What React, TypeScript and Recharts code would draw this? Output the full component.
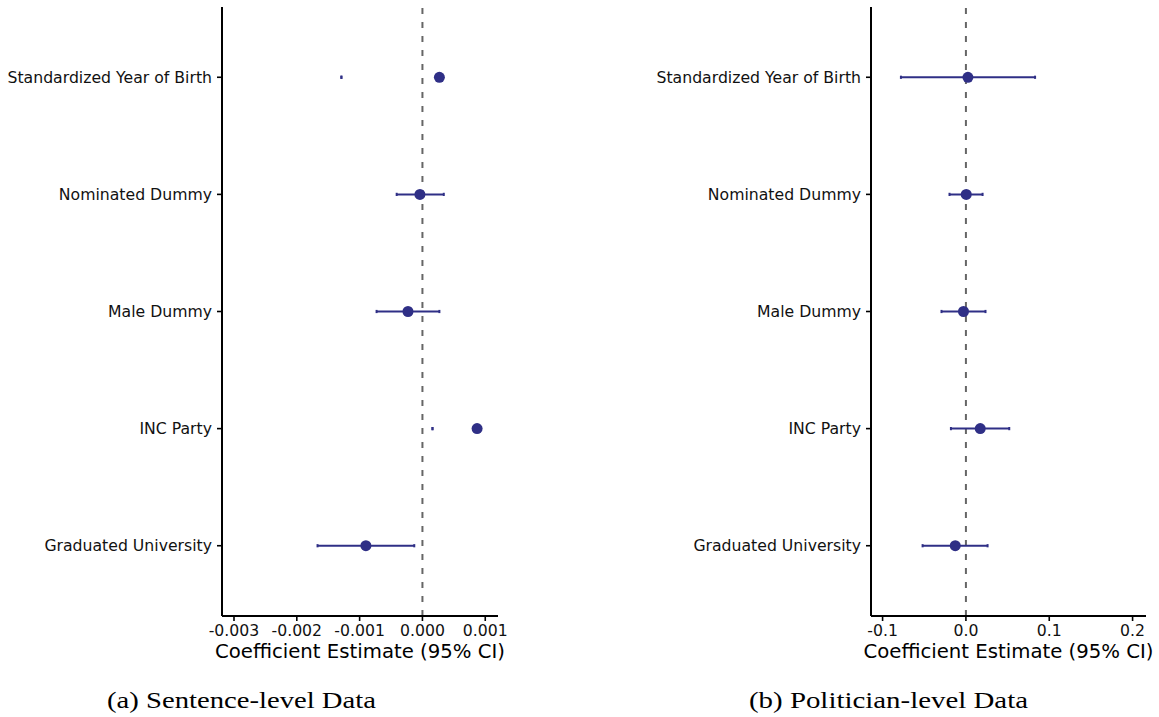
import React from "react";
import { ScatterChart, Scatter, XAxis, YAxis, ErrorBar, ReferenceLine } from "recharts";

// Categories from bottom (index 1) to top (index 5)
const categories = [
  "Graduated University",
  "INC Party",
  "Male Dummy",
  "Nominated Dummy",
  "Standardized Year of Birth",
];

// (a) Sentence-level data
const sentenceEstimate = [-0.0009, 0.00087, -0.00023, -0.00004, 0.00027];
const sentenceLower = [-0.00167, 0.00016, -0.00073, -0.00041, -0.00129];
const sentenceUpper = [-0.00013, 0.00016, 0.00027, 0.00034, -0.00129];
const sentenceTicks = [-0.003, -0.002, -0.001, 0, 0.001];

// (b) Politician-level data
const politicianEstimate = [-0.0128, 0.0172, -0.0029, 0.0004, 0.0024];
const politicianLower = [-0.052, -0.018, -0.0293, -0.0197, -0.078];
const politicianUpper = [0.026, 0.052, 0.0235, 0.02, 0.083];
const politicianTicks = [-0.1, 0, 0.1, 0.2];

const categoryTicks = [1, 2, 3, 4, 5];

const POINT = "#2f2f86";
const FONT = "'DejaVu Sans', sans-serif";

function buildRows(est: number[], lo: number[], hi: number[]) {
  return categories.map((name, i) => ({
    name,
    y: i + 1,
    est: est[i],
    err: [est[i] - lo[i], hi[i] - est[i]],
  }));
}

const Dot = (p: any) => <circle cx={p.cx} cy={p.cy} r={5.5} fill={POINT} />;

function Panel(props: {
  rows: any[];
  domain: [number, number];
  ticks: number[];
  digits: number;
  width: number;
  marginLeft: number;
  marginRight: number;
}) {
  const { rows, domain, ticks, digits, width, marginLeft, marginRight } = props;
  return (
    <ScatterChart
      width={width}
      height={680}
      margin={{ top: 7, right: marginRight, bottom: 0, left: marginLeft }}
    >
      <XAxis
        type="number"
        dataKey="est"
        domain={domain}
        allowDataOverflow
        ticks={ticks}
        tickFormatter={(v: number) => v.toFixed(digits)}
        tick={{ fontSize: 15.7, fill: "#111", fontFamily: FONT }}
        tickSize={5}
        tickMargin={4}
        axisLine={{ stroke: "#000", strokeWidth: 2 }}
        tickLine={{ stroke: "#000", strokeWidth: 1.6 }}
        height={64}
        label={{
          value: "Coefficient Estimate (95% CI)",
          position: "insideBottom",
          offset: 22,
          style: { fontSize: 19.7, fill: "#000", fontFamily: FONT },
        }}
      />
      <YAxis
        type="number"
        dataKey="y"
        domain={[0.4, 5.6]}
        allowDataOverflow
        ticks={categoryTicks}
        tickFormatter={(v: number) => categories[v - 1]}
        tick={{ fontSize: 15.7, fill: "#111", fontFamily: FONT }}
        tickSize={5}
        tickMargin={5}
        width={210}
        axisLine={{ stroke: "#000", strokeWidth: 2 }}
        tickLine={{ stroke: "#000", strokeWidth: 1.6 }}
      />
      <ReferenceLine x={0} stroke="#666" strokeWidth={2} strokeDasharray="6 8" />
      <Scatter data={rows} shape={Dot} isAnimationActive={false}>
        <ErrorBar dataKey="err" direction="x" width={1.6} stroke={POINT} strokeWidth={2} />
      </Scatter>
    </ScatterChart>
  );
}

export default function App() {
  const sentenceRows = buildRows(sentenceEstimate, sentenceLower, sentenceUpper);
  const politicianRows = buildRows(politicianEstimate, politicianLower, politicianUpper);
  return (
    <div style={{ position: "absolute", left: 0, top: 0, width: 1159, height: 717, background: "#fff" }}>
      <div style={{ position: "absolute", left: 0, top: 0 }}>
        <Panel
          rows={sentenceRows}
          domain={[-0.003191, 0.001203]}
          ticks={sentenceTicks}
          digits={3}
          width={520}
          marginLeft={12}
          marginRight={22}
        />
      </div>
      <div style={{ position: "absolute", left: 640, top: 0 }}>
        <Panel
          rows={politicianRows}
          domain={[-0.1139, 0.2161]}
          ticks={politicianTicks}
          digits={1}
          width={519}
          marginLeft={21}
          marginRight={13}
        />
      </div>
      <svg width={1159} height={717} style={{ position: "absolute", left: 0, top: 0, pointerEvents: "none" }}>
        <text
          x={241.5}
          y={708}
          textAnchor="middle"
          fontFamily="'Liberation Serif', serif"
          fontSize={23}
          textLength={269}
          lengthAdjust="spacingAndGlyphs"
          fill="#000"
        >
          (a) Sentence-level Data
        </text>
        <text
          x={888.5}
          y={708}
          textAnchor="middle"
          fontFamily="'Liberation Serif', serif"
          fontSize={23}
          textLength={279}
          lengthAdjust="spacingAndGlyphs"
          fill="#000"
        >
          (b) Politician-level Data
        </text>
      </svg>
    </div>
  );
}
